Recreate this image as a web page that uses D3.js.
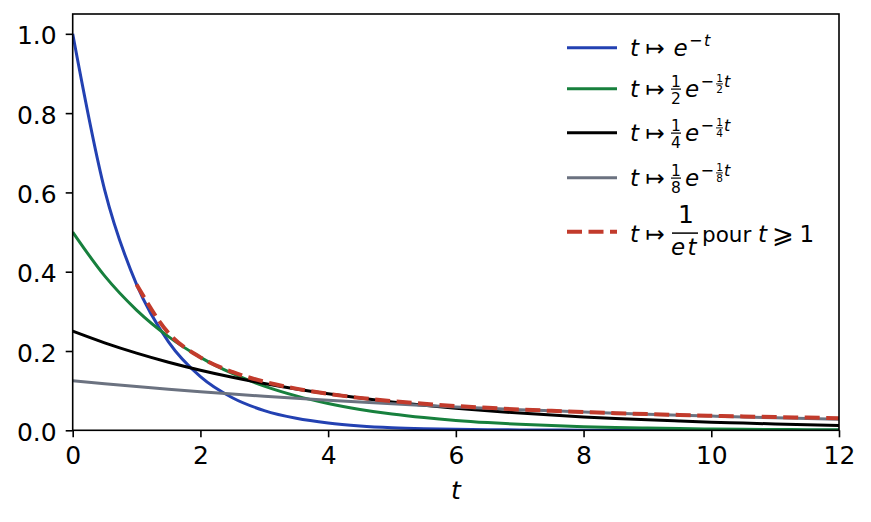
<!DOCTYPE html>
<html><head><meta charset="utf-8">
<script src="https://cdn.jsdelivr.net/npm/d3@7"></script>
<style>body{margin:0;background:#fff}svg{display:block}text{font-family:"DejaVu Sans",sans-serif;fill:#000}</style>
</head><body><svg id="c" width="871" height="522"></svg>
<script>
// sample abscissae t
const tValues = [0,0.5,1,1.5,2,2.5,3,3.5,4,4.5,5,5.5,6,6.5,7,7.5,8,8.5,9,9.5,10,10.5,11,11.5,12];
// t -> e^{-t}
const seriesA = [1,0.6065,0.3679,0.2231,0.1353,0.0821,0.0498,0.0302,0.0183,0.0111,0.0067,0.0041,0.0025,0.0015,0.0009,0.0006,0.0003,0.0002,0.0001,0.0001,0,0,0,0,0];
// t -> 1/2 e^{-t/2}
const seriesB = [0.5,0.3894,0.3033,0.2362,0.1839,0.1433,0.1116,0.0869,0.0677,0.0527,0.0410,0.0320,0.0249,0.0194,0.0151,0.0118,0.0092,0.0071,0.0056,0.0043,0.0034,0.0026,0.0020,0.0016,0.0012];
// t -> 1/4 e^{-t/4}
const seriesC = [0.25,0.2206,0.1947,0.1718,0.1516,0.1338,0.1181,0.1042,0.0920,0.0812,0.0716,0.0632,0.0558,0.0492,0.0434,0.0383,0.0338,0.0299,0.0263,0.0233,0.0205,0.0181,0.0160,0.0141,0.0124];
// t -> 1/8 e^{-t/8}
const seriesD = [0.125,0.1174,0.1103,0.1036,0.0974,0.0915,0.0859,0.0807,0.0758,0.0712,0.0669,0.0629,0.0590,0.0555,0.0521,0.0490,0.0460,0.0432,0.0406,0.0381,0.0358,0.0336,0.0316,0.0297,0.0279];
// t -> 1/(e t) for t >= 1
const tHyper = [1,1.5,2,2.5,3,3.5,4,4.5,5,5.5,6,6.5,7,7.5,8,8.5,9,9.5,10,10.5,11,11.5,12];
const seriesE = [0.3679,0.2453,0.1839,0.1472,0.1226,0.1051,0.0920,0.0818,0.0736,0.0669,0.0613,0.0566,0.0526,0.0491,0.0460,0.0433,0.0409,0.0387,0.0368,0.0350,0.0334,0.0320,0.0307];
const xTicks = [0,2,4,6,8,10,12];
const yTicks = [0,0.2,0.4,0.6,0.8,1.0];

const colors = {A:"#2341b2",B:"#17803d",C:"#000000",D:"#6b7280",E:"#c23b2c"};
const svg = d3.select("#c");
const L=72.7,R=839,T=14,B=430.3;
const x = d3.scaleLinear().domain([0,12]).range([L,R]);
const y = d3.scaleLinear().domain([0,1.05]).range([B,T]);

svg.append("defs").append("clipPath").attr("id","clip").append("rect")
  .attr("x",L).attr("y",T).attr("width",R-L).attr("height",B-T);

const line = d3.line().x(d=>x(d[0])).y(d=>y(d[1])).curve(d3.curveMonotoneX);
const g = svg.append("g").attr("clip-path","url(#clip)");
const series = [
  {t:tValues,v:seriesA,c:colors.A,w:3},
  {t:tValues,v:seriesB,c:colors.B,w:3},
  {t:tValues,v:seriesC,c:colors.C,w:3},
  {t:tValues,v:seriesD,c:colors.D,w:3},
  {t:tHyper,v:seriesE,c:colors.E,w:4,dash:"15,6.5"}
];
series.forEach(s=>{
  g.append("path").datum(s.t.map((t,i)=>[t,s.v[i]]))
   .attr("d",line).attr("fill","none").attr("stroke",s.c).attr("stroke-width",s.w)
   .attr("stroke-dasharray",s.dash||null);
});

// axes
const TF=25;
const xAxis = d3.axisBottom(x).tickValues(xTicks).tickFormat(d3.format("d")).tickSize(7).tickPadding(9);
const yAxis = d3.axisLeft(y).tickValues(yTicks).tickFormat(d3.format(".1f")).tickSize(7).tickPadding(9);
const gx = svg.append("g").attr("transform",`translate(0,${B})`).call(xAxis);
const gy = svg.append("g").attr("transform",`translate(${L},0)`).call(yAxis);
[gx,gy].forEach(a=>{
  a.attr("font-size",TF).attr("font-family","DejaVu Sans");
  a.select(".domain").remove();
  a.selectAll(".tick line").attr("stroke","#000").attr("stroke-width",1.6);
  a.selectAll(".tick text").attr("font-size",TF).attr("fill","#000");
});
gx.selectAll(".tick text").attr("dy","0.71em");
gy.selectAll(".tick text").attr("dy","0.4em");
svg.append("rect").attr("x",L).attr("y",T).attr("width",R-L).attr("height",B-T)
  .attr("fill","none").attr("stroke","#000").attr("stroke-width",1.6);
svg.append("text").attr("x",(L+R)/2).attr("y",499).attr("text-anchor","middle")
  .attr("font-size",TF).attr("font-style","italic").text("t");

// legend
const F=23;
const lg = svg.append("g");
const rows=[47.7,88.7,132.7,177.7,231.7];
series.forEach((s,i)=>{
  lg.append("line").attr("x1",567).attr("x2",617).attr("y1",rows[i]).attr("y2",rows[i])
    .attr("stroke",s.c).attr("stroke-width",s.w).attr("stroke-dasharray",s.dash?"15,6.5":null);
});
function txt(xx,yy,str,size,italic,anchor){
  return lg.append("text").attr("x",xx).attr("y",yy).attr("font-size",size)
    .attr("font-style",italic?"italic":"normal").attr("text-anchor",anchor||"start").text(str);
}
function bar(x1,x2,yy,w){lg.append("line").attr("x1",x1).attr("x2",x2).attr("y1",yy).attr("y2",yy).attr("stroke","#000").attr("stroke-width",w||1.1);}
function head(b){txt(630,b,"t",F,true);txt(645.5,b,"↦",F,false);}
// row 1
let b=rows[0]+8.5;
head(b); txt(673.5,b,"e",F,true); txt(689,b-10,"−",16,false); txt(704,b-10,"t",16,true);
// rows 2-4
const dens=["2","4","8"];
dens.forEach((d,k)=>{
  const bb=rows[k+1]+8;
  head(bb);
  txt(676,bb-10,"1",15.5,false,"middle"); bar(671,681,bb-7.6,1.2); txt(676,bb+7.5,d,15.5,false,"middle");
  txt(685,bb,"e",F,true);
  txt(700.5,bb-9.5,"−",16,false);
  txt(719.5,bb-14.5,"1",10.5,false,"middle"); bar(716,723,bb-12.8,0.9); txt(719.5,bb-3.3,d,10.5,false,"middle");
  txt(724,bb-9.5,"t",16,true);
});
// row 5
b=rows[4]+10;
head(b);
txt(686,b-18.5,"1",25,false,"middle"); bar(672,698,b-8.6,1.5);
txt(685,b+13.5,"et",F,true,"middle").attr("letter-spacing",2.5);
txt(702,b,"pour",21.5,false);
txt(758,b,"t",F,true);
txt(772,b+1,"⩾",26,false);
txt(799.5,b,"1",F,false);
</script></body></html>
